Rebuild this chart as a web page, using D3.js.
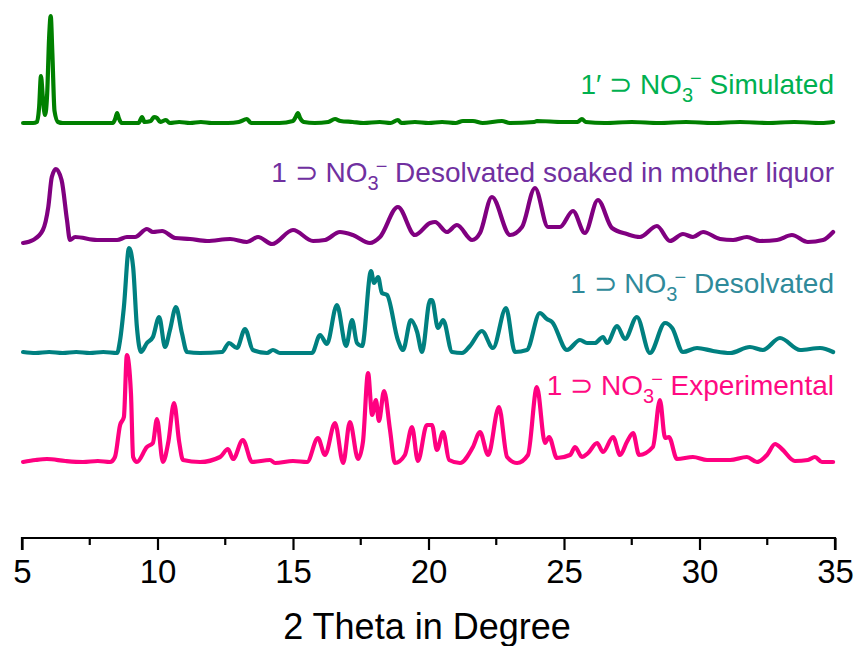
<!DOCTYPE html>
<html>
<head>
<meta charset="utf-8">
<script src="https://cdn.jsdelivr.net/npm/d3@7"></script>
<style>
  html, body { margin: 0; padding: 0; background: #fff; }
  svg { display: block; }
</style>
</head>
<body>
<div id="chart"></div>
<script>
// PXRD patterns: [2θ (degree), intensity above the trace's own baseline (a.u.)]
const experimental = [
  [5.04,0],[5.5,2],[5.92,3],[6.6,1],[7.25,0],[7.8,1],[8.25,0],[8.43,5],[8.62,37],[8.76,45],[8.87,107],
  [9.02,69],[9.10,5],[9.24,0],[9.61,15],[9.83,19],[9.98,43],[10.20,0],[10.40,20],[10.61,59],[10.80,20],[10.94,2],
  [11.57,0],[12.31,5],[12.60,13],[12.79,3],[13.15,22],[13.49,0],[14.15,2],[14.34,-1],[15.0,1],[15.52,0],
  [15.92,24],[16.18,7],[16.55,39],[16.85,-1],[17.10,40],[17.40,3],[17.58,20],[17.77,89],[17.92,47],[18.06,62],
  [18.17,41],[18.36,71],[18.58,32],[18.76,-1],[19.13,7],[19.39,35],[19.61,1],[19.94,37],[20.13,37],[20.31,12],
  [20.54,30],[20.76,2],[21.16,-1],[21.64,15],[21.90,30],[22.20,7],[22.60,55],[22.90,5],[23.27,-1],[23.67,7],
  [24.00,75],[24.30,19],[24.45,25],[24.74,4],[25.22,7],[25.41,15],[25.66,5],[25.89,9],[26.22,19],[26.44,10],
  [26.81,25],[27.07,7],[27.32,20],[27.55,29],[27.77,7],[28.28,15],[28.54,62],[28.73,24],[28.87,25],[29.17,3],
  [29.76,5],[30.28,2],[31.13,2],[31.75,5],[32.12,0],[32.49,7],[32.79,18],[33.04,13],[33.52,1],[34.00,2],
  [34.26,5],[34.52,0],[34.93,0]
];

const desolvated = [
  [5.04,1],[5.5,0],[6.0,1],[6.5,0],[7.0,1],[7.5,0],[8.0,1],[8.51,0],[8.62,13],[8.76,46],[8.95,105],[9.10,86],
  [9.24,26],[9.39,1],[9.61,10],[9.83,16],[10.06,36],[10.28,6],[10.46,23],[10.68,46],[10.90,20],[11.09,1],
  [11.57,0],[12.38,1],[12.64,10],[12.93,5],[13.23,24],[13.52,3],[14.04,0],[14.26,3],[14.52,0],[15.70,0],
  [16.00,18],[16.25,9],[16.62,48],[16.96,7],[17.18,33],[17.36,10],[17.55,7],[17.88,82],[17.99,70],[18.14,76],
  [18.28,60],[18.47,58],[18.87,13],[19.06,3],[19.35,33],[19.58,21],[19.76,1],[20.06,53],[20.13,53],[20.35,25],
  [20.54,33],[20.87,1],[21.24,0],[21.53,7],[21.97,22],[22.38,5],[22.86,45],[23.19,1],[23.63,3],[24.11,40],
  [24.37,34],[24.56,31],[25.11,3],[25.59,13],[25.85,10],[26.14,10],[26.44,16],[26.59,10],[26.96,27],[27.25,14],
  [27.69,36],[28.17,0],[28.73,30],[28.99,25],[29.39,1],[29.91,5],[30.5,2],[31.13,0],[31.86,6],[32.34,3],
  [32.97,15],[33.71,3],[34.45,5],[34.93,1]
];

const soaked = [
  [5.04,-3],[5.41,0],[5.77,10],[5.97,33],[6.10,63],[6.25,71],[6.46,60],[6.66,20],[6.77,0],[6.96,3],[7.77,0],
  [8.51,0],[8.87,3],[9.17,3],[9.61,11],[9.83,8],[10.17,9],[10.65,2],[11.20,1],[11.83,-1],[12.68,1],[13.30,-2],
  [13.71,3],[14.23,-4],[15.00,10],[15.74,-1],[16.18,0],[16.73,8],[17.21,5],[17.84,-3],[18.21,3],[18.87,33],
  [19.50,5],[20.06,17],[20.24,18],[20.68,8],[21.05,15],[21.61,0],[21.90,7],[22.34,43],[23.01,5],[23.45,13],
  [23.93,52],[24.41,13],[24.85,13],[25.33,29],[25.77,7],[26.25,40],[26.77,12],[27.32,6],[27.80,3],[28.43,14],
  [28.91,-1],[29.39,6],[29.76,3],[30.13,8],[30.76,1],[31.24,0],[31.75,3],[32.23,-1],[32.86,0],[33.41,5],
  [34.00,-2],[34.56,0],[34.93,8]
];

const simulated = [
  [5.04,0],[5.41,0],[5.55,1],[5.63,15],[5.70,47],[5.77,25],[5.85,8],[5.93,30],[6.00,85],[6.06,107],[6.12,70],
  [6.20,12],[6.33,1],[6.5,0],[8.35,0],[8.45,5],[8.51,10],[8.57,5],[8.68,0],[9.3,0],[9.43,6],[9.52,1],[9.75,2],
  [9.87,6],[9.98,5],[10.10,1],[10.31,3],[10.45,0],[10.8,1],[11.2,0],[11.6,1],[12.0,0],[12.6,0],[13.0,1],
  [13.30,4],[13.45,0],[14.5,0],[15.0,2],[15.10,6],[15.18,10],[15.26,5],[15.40,1],[15.8,0],[16.3,1],[16.55,4],
  [16.75,2],[17.2,1],[17.6,0],[18.2,1],[18.6,0],[18.87,3],[19.0,0],[19.5,1],[20.0,0],[20.5,1],[21.0,0],
  [21.27,2],[21.64,2],[22.0,0],[22.71,2],[23.0,0],[23.9,1],[24.0,2],[24.96,1],[25.5,1],[25.66,4],[25.8,1],
  [26.5,0],[27.5,1],[28.5,0],[29.5,1],[30.5,0],[31.5,1],[32.5,0],[33.5,1],[34.5,0],[34.93,1]
];

// Stacked vertical offsets for each trace (a.u.)
const seriesOffsets = [76, 185, 298, 415];
const seriesData = [experimental, desolvated, soaked, simulated];
const seriesPrefix = ["1", "1", "1", "1\u2032"];
const seriesSuffix = ["Experimental", "Desolvated", "Desolvated soaked in mother liquor", "Simulated"];

const xTicks = [5, 10, 15, 20, 25, 30, 35];
const xMinorTicks = [7.5, 12.5, 17.5, 22.5, 27.5, 32.5];
const xTitle = "2 Theta in Degree";

// ---- layout & style ----
const W = 857, H = 646;
const FONT = "Arial, 'Liberation Sans', sans-serif";
const lineColors = ["#ff0080", "#008080", "#800080", "#008000"];
const labelColors = ["#ff0a82", "#2f8a9a", "#7030a0", "#00b050"];
const labelLift = [67, 60, 58, 29];

const svg = d3.select("#chart").append("svg")
  .attr("width", W).attr("height", H);

const x = d3.scaleLinear().domain([5, 35]).range([22, 835]);
const y = d3.scaleLinear().domain([0, 538]).range([538, 0]);

const line = d3.line()
  .x(d => x(d[0]))
  .y(d => y(d[1]))
  .curve(d3.curveMonotoneX);

seriesData.forEach((data, i) => {
  svg.append("path")
    .datum(data.map(d => [d[0], d[1] + seriesOffsets[i]]))
    .attr("fill", "none")
    .attr("stroke", lineColors[i])
    .attr("stroke-width", 4.2)
    .attr("stroke-linejoin", "round")
    .attr("stroke-linecap", "round")
    .attr("d", line);
});

// Trace labels: "1 ⊃ NO3⁻ ..." right-aligned above each trace
seriesData.forEach((data, i) => {
  const t = svg.append("text")
    .attr("x", 834)
    .attr("y", y(seriesOffsets[i] + labelLift[i]))
    .attr("text-anchor", "end")
    .attr("fill", labelColors[i])
    .style("font-family", FONT)
    .style("font-size", "28px");
  t.append("tspan").text(seriesPrefix[i] + " \u2283 NO");
  t.append("tspan").attr("dy", 8).style("font-size", "20px").text("3");
  t.append("tspan").attr("dy", -17).attr("dx", -3).style("font-size", "20px").text("\u2212");
  t.append("tspan").attr("dy", 9).text(" " + seriesSuffix[i]);
});

// Bottom axis
const axis = d3.axisBottom(x)
  .tickValues(xTicks)
  .tickSize(12)
  .tickPadding(10)
  .tickFormat(d3.format("d"));

const gx = svg.append("g")
  .attr("transform", `translate(0,${y(0)})`)
  .call(axis);

gx.select(".domain").attr("stroke", "#000").attr("stroke-width", 2.2)
  .attr("d", `M${x(5)},12V0H${x(35)}V12`);
gx.selectAll(".tick line").attr("stroke", "#000").attr("stroke-width", 2.2);
gx.selectAll(".tick text")
  .attr("fill", "#000")
  .style("font-family", FONT)
  .style("font-size", "33px");

gx.selectAll(".minor")
  .data(xMinorTicks)
  .enter().append("line")
  .attr("class", "minor")
  .attr("x1", d => x(d)).attr("x2", d => x(d))
  .attr("y1", 0).attr("y2", 7)
  .attr("stroke", "#000").attr("stroke-width", 2.2);

svg.append("text")
  .attr("x", 427)
  .attr("y", 639)
  .attr("text-anchor", "middle")
  .attr("fill", "#000")
  .style("font-family", FONT)
  .style("font-size", "36px")
  .text(xTitle);
</script>
</body>
</html>
